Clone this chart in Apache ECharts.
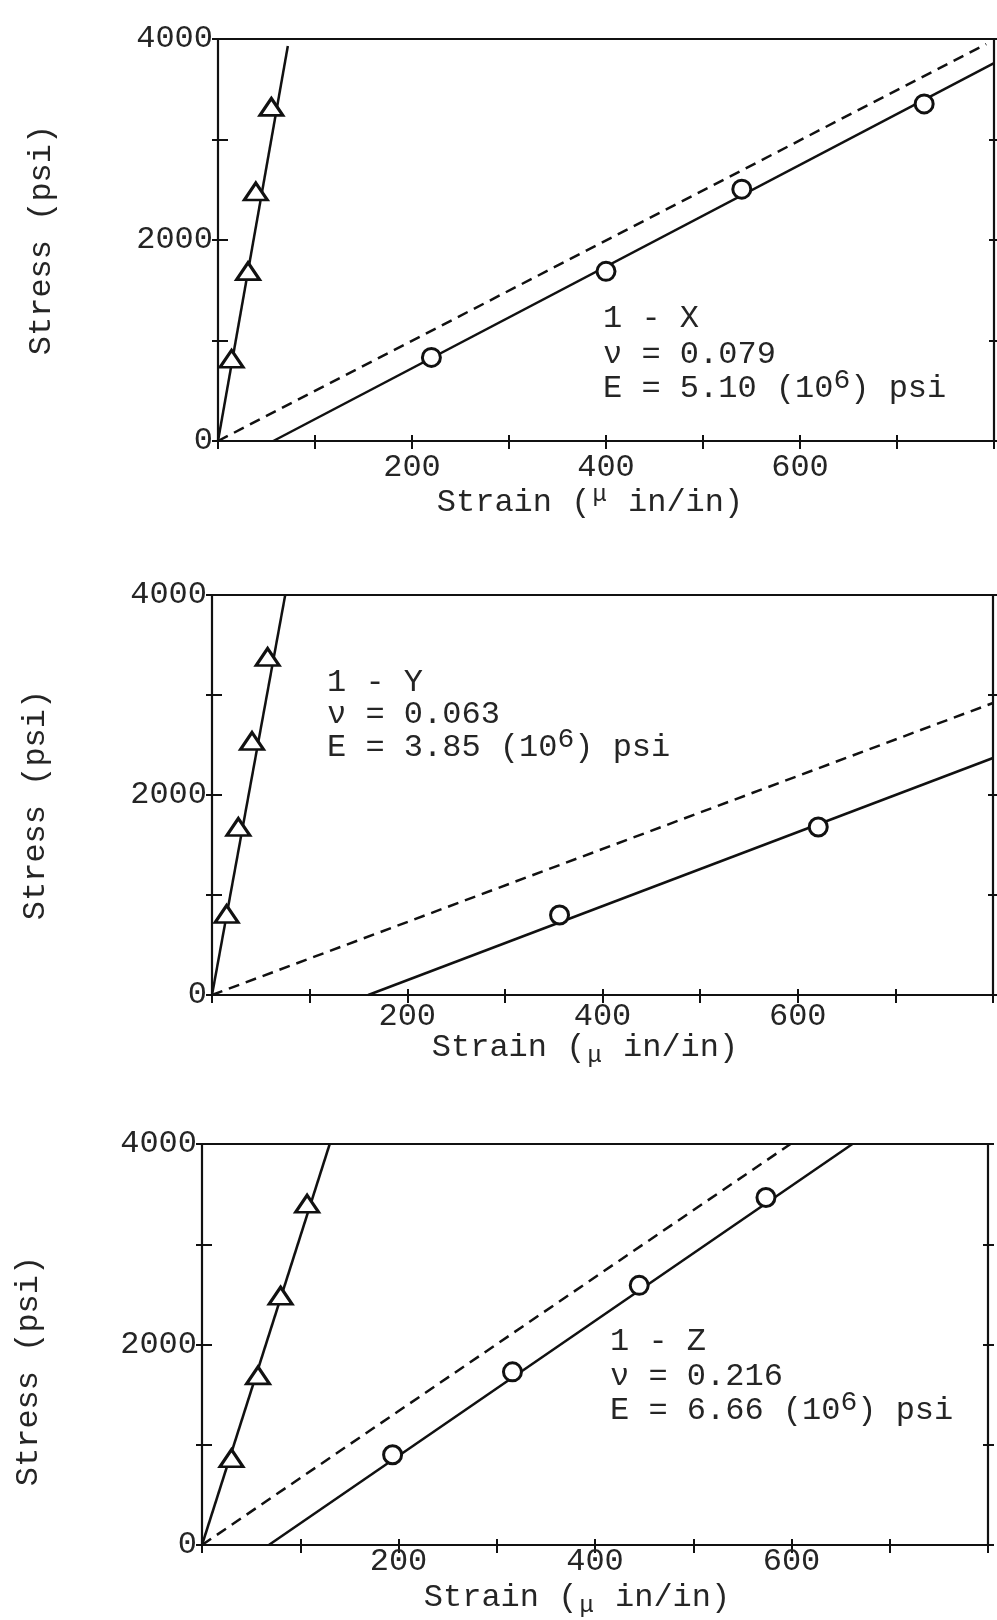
<!DOCTYPE html>
<html>
<head>
<meta charset="utf-8">
<title>Stress-strain curves, specimens 1-X, 1-Y, 1-Z</title>
<script src="https://cdn.jsdelivr.net/npm/echarts@6.0.0/dist/echarts.min.js"></script>
<style>
  html, body { margin: 0; padding: 0; background: #fff; }
  #chart { width: 997px; height: 1620px; }
</style>
</head>
<body>
<div id="chart"></div>
<script>
// ---- data -------------------------------------------------------------
// Axis tick labels (ticks every 100 microstrain / 1000 psi)
const strainLabels = [200, 400, 600];
const stressLabels = [0, 2000, 4000];

// Specimen captions
const specimenNames = ['1 - X', '1 - Y', '1 - Z'];
const poissonRatios = ['0.079', '0.063', '0.216'];
const moduli = ['5.10', '3.85', '6.66'];

// 1-X : lateral strain (triangles) and axial strain (circles)
const xLatStrain = [14, 31, 39, 55];
const xLatStress = [818, 1690, 2483, 3325];
const xAxStrain = [220, 400, 540, 728];
const xAxStress = [832, 1688, 2506, 3354];
const xLatFit = [[0, 0], [72, 3930]];
const xAxFit = [[57, 0], [800, 3760]];
const xModulusLine = [[0, 0], [792, 3950]];

// 1-Y
const yLatStrain = [15, 27, 41, 57];
const yLatStress = [810, 1680, 2540, 3380];
const yAxStrain = [356, 621];
const yAxStress = [800, 1680];
const yLatFit = [[0, 0], [75, 4000]];
const yAxFit = [[160, 0], [800, 2370]];
const yModulusLine = [[0, 0], [800, 2920]];

// 1-Z
const zLatStrain = [30, 57, 80, 107];
const zLatStress = [866, 1692, 2487, 3404];
const zAxStrain = [194, 316, 445, 574];
const zAxStress = [900, 1727, 2590, 3466];
const zLatFit = [[0, 0], [130, 4000]];
const zAxFit = [[68, 0], [662, 4000]];
const zModulusLine = [[0, 0], [599, 4000]];

// ---- layout -------------------------------------------------------------
const FONT = 'Liberation Mono';
const INK = '#111';
const TEXT = '#252525';
const FS = 32;

const panels = [
  { grid: { left: 218, top: 39, width: 777, height: 402 }, xMargin: 11,
    lat: [xLatStrain, xLatStress], ax: [xAxStrain, xAxStress],
    latFit: xLatFit, axFit: xAxFit, modLine: xModulusLine,
    caption: { x: 603, y: 319, gap: [36, 70] },
    xName: { x: 590, y: 503, muRaised: true },
    yName: { x: 42, y: 240 } },
  { grid: { left: 212, top: 595, width: 781, height: 400 }, xMargin: 6,
    lat: [yLatStrain, yLatStress], ax: [yAxStrain, yAxStress],
    latFit: yLatFit, axFit: yAxFit, modLine: yModulusLine,
    caption: { x: 327, y: 683, gap: [32, 65] },
    xName: { x: 585, y: 1048, muRaised: false },
    yName: { x: 36, y: 805 } },
  { grid: { left: 202, top: 1144, width: 786, height: 401 }, xMargin: 1,
    lat: [zLatStrain, zLatStress], ax: [zAxStrain, zAxStress],
    latFit: zLatFit, axFit: zAxFit, modLine: zModulusLine,
    caption: { x: 610, y: 1342, gap: [35, 69] },
    xName: { x: 577, y: 1598, muRaised: false },
    yName: { x: 29, y: 1371 } }
];

const zip = (a, b) => a.map((v, i) => [v, b[i]]);
const lineCommon = { onZero: false, lineStyle: { color: INK, width: 2.2 } };
const tickStyle = { color: INK, width: 2 };
const labelFont = { fontFamily: FONT, fontSize: FS, color: TEXT };

const grids = [], xAxes = [], yAxes = [], series = [], graphics = [];

panels.forEach((p, i) => {
  grids.push(Object.assign({ containLabel: false }, p.grid));

  const xBase = { gridIndex: i, type: 'value', min: 0, max: 800, interval: 100,
    splitLine: { show: false } };
  const yBase = { gridIndex: i, type: 'value', min: 0, max: 4000, interval: 1000,
    splitLine: { show: false } };

  const xMain = xAxes.length;
  // bottom axis with outward ticks and labels
  xAxes.push(Object.assign({}, xBase, { position: 'bottom',
    axisLine: lineCommon,
    axisTick: { show: true, inside: false, length: 8, lineStyle: tickStyle },
    axisLabel: Object.assign({ margin: p.xMargin,
      formatter: v => strainLabels.includes(v) ? String(v) : '' }, labelFont) }));
  // inward half of the crossing ticks
  xAxes.push(Object.assign({}, xBase, { position: 'bottom',
    axisLine: { show: false, onZero: false },
    axisTick: { show: true, inside: true, length: 6, lineStyle: tickStyle },
    axisLabel: { show: false } }));
  // top frame
  xAxes.push(Object.assign({}, xBase, { position: 'top',
    axisLine: lineCommon, axisTick: { show: false }, axisLabel: { show: false } }));

  const yMain = yAxes.length;
  yAxes.push(Object.assign({}, yBase, { position: 'left',
    axisLine: lineCommon,
    axisTick: { show: true, inside: false, length: 6, lineStyle: tickStyle },
    axisLabel: Object.assign({ margin: 5,
      formatter: v => stressLabels.includes(v) ? String(v) : '' }, labelFont) }));
  yAxes.push(Object.assign({}, yBase, { position: 'left',
    axisLine: { show: false, onZero: false },
    axisTick: { show: true, inside: true, length: 10, lineStyle: tickStyle },
    axisLabel: { show: false } }));
  // right frame with crossing ticks
  yAxes.push(Object.assign({}, yBase, { position: 'right',
    axisLine: lineCommon,
    axisTick: { show: true, inside: false, length: 6, lineStyle: tickStyle },
    axisLabel: { show: false } }));
  yAxes.push(Object.assign({}, yBase, { position: 'right',
    axisLine: { show: false, onZero: false },
    axisTick: { show: true, inside: true, length: 5, lineStyle: tickStyle },
    axisLabel: { show: false } }));

  const axisRef = { xAxisIndex: xMain, yAxisIndex: yMain };
  const fitLine = (data, dashed) => Object.assign({
    type: 'line', data, showSymbol: false, symbol: 'none', silent: true, z: 2,
    lineStyle: { color: INK, width: 2.5, type: dashed ? [11, 7] : 'solid' }
  }, axisRef);

  series.push(fitLine(p.latFit, false));
  series.push(fitLine(p.axFit, false));
  series.push(fitLine(p.modLine, true));
  series.push(Object.assign({ type: 'scatter', data: zip(p.lat[0], p.lat[1]),
    symbol: 'triangle', symbolSize: [23, 17], z: 4,
    itemStyle: { color: '#fff', borderColor: INK, borderWidth: 3, opacity: 1 } }, axisRef));
  series.push(Object.assign({ type: 'scatter', data: zip(p.ax[0], p.ax[1]),
    symbol: 'circle', symbolSize: 18, z: 4,
    itemStyle: { color: '#fff', borderColor: INK, borderWidth: 3, opacity: 1 } }, axisRef));

  // specimen caption
  const c = p.caption;
  const baseText = { fontFamily: FONT, fontSize: FS, fill: TEXT, align: 'left', verticalAlign: 'middle' };
  graphics.push({ type: 'text', x: c.x, y: c.y, silent: true,
    style: Object.assign({ text: specimenNames[i] }, baseText) });
  graphics.push({ type: 'text', x: c.x, y: c.y + c.gap[0], silent: true,
    style: Object.assign({ text: 'ν = ' + poissonRatios[i] }, baseText) });
  graphics.push({ type: 'text', x: c.x, y: c.y + c.gap[1], silent: true,
    style: Object.assign({}, baseText, {
      text: '{a|E = ' + moduli[i] + ' (10}{s|6}{a|) psi}',
      rich: {
        a: { fontFamily: FONT, fontSize: FS, lineHeight: 44, fill: TEXT },
        s: { fontFamily: FONT, fontSize: 28, lineHeight: 22, fill: TEXT, verticalAlign: 'top' }
      } }) });

  // axis titles
  const xn = p.xName;
  graphics.push({ type: 'text', x: xn.x, y: xn.y, silent: true,
    style: { text: '{a|Strain (}{m|μ}{a| in/in)}', align: 'center', verticalAlign: 'middle',
      fontFamily: FONT, fontSize: FS, fill: TEXT,
      rich: {
        a: { fontFamily: FONT, fontSize: FS, lineHeight: 40, fill: TEXT },
        m: { fontFamily: FONT, fontSize: 24, lineHeight: xn.muRaised ? 22 : 30, fill: TEXT,
             verticalAlign: xn.muRaised ? 'top' : 'bottom', padding: [0, 2, 0, 2] }
      } } });
  const yn = p.yName;
  graphics.push({ type: 'text', x: yn.x, y: yn.y, rotation: Math.PI / 2, silent: true,
    style: { text: 'Stress (psi)', align: 'center', verticalAlign: 'middle',
      fontFamily: FONT, fontSize: FS, fill: TEXT } });
});

const chart = echarts.init(document.getElementById('chart'), null, { renderer: 'canvas' });
chart.setOption({
  animation: false,
  backgroundColor: '#fff',
  grid: grids,
  xAxis: xAxes,
  yAxis: yAxes,
  series: series,
  graphic: graphics
});
</script>
</body>
</html>
